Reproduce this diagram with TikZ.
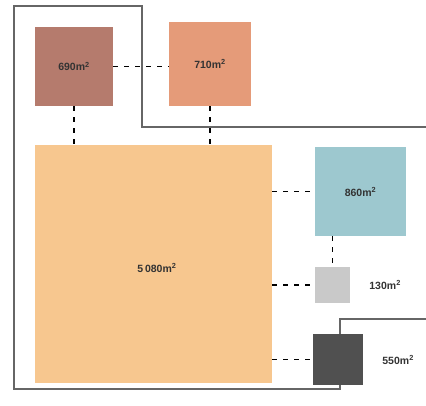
\documentclass[tikz,border=0pt]{standalone}
\usepackage{fontspec}
\setsansfont{Liberation Sans}
\usepackage{tikz}
\usetikzlibrary{calc,positioning}
\tikzstyle{link} = [line width=1.2pt,dash pattern=on 5pt off 6pt]
\tikzset{
    room/.style = {rectangle, inner sep=0pt, font=\sffamily\bfseries\fontsize{10.5}{12}\selectfont, text=black!80},
    outline/.style = {draw=black!60, line width=1.2pt},
}
\definecolor{brownroom}{HTML}{B57B6D}
\definecolor{salmonroom}{HTML}{E59B79}
\definecolor{peachroom}{HTML}{F7C78F}
\definecolor{tealroom}{HTML}{9DC8CF}
\definecolor{greyroom}{HTML}{C9C9C9}
\definecolor{darkroom}{HTML}{505050}

\begin{document}
\begin{tikzpicture}[x=1pt, y=-1pt]
    \useasboundingbox (0,0) rectangle (426,406);

    % site boundary
    \draw [outline] (426,127) -- (142,127) -- (142,6) -- (14,6) -- (14,389)
        -- (340,389) -- (340,319) -- (426,319);

    \node [room, fill=brownroom, minimum width=78pt, minimum height=79pt] (hall) at (74,66.5) {690m\textsuperscript{2}};
    \node [room, fill=salmonroom, minimum width=82pt, minimum height=84pt] (annex) at (210,64) {710m\textsuperscript{2}};
    \node [room, fill=peachroom, minimum width=237pt, minimum height=238pt] (main) at (153.5,264) {};
    \node [room] at (157,268) {5\,080m\textsuperscript{2}};
    \node [room, fill=tealroom, minimum width=91pt, minimum height=89pt] (lab) at (360.5,191.5) {860m\textsuperscript{2}};
    \node [room, fill=greyroom, minimum width=35pt, minimum height=36pt,
        label={[room, label distance=19pt]right:130m\textsuperscript{2}}] (store) at (332.5,285) {};
    \node [room, fill=darkroom, minimum width=50pt, minimum height=51pt,
        label={[room, label distance=19pt]right:550m\textsuperscript{2}}] (plant) at (338,359.5) {};

    \draw [link] (hall.east) -- (hall.east -| annex.west);
    \draw [link] (hall.south) -- (hall.south |- main.north);
    \draw [link] (annex.south) -- (annex.south |- main.north);
    \draw [link] (main.east |- lab.west) -- (lab.west);
    \draw [link] (lab.south -| store.north) -- (store.north);
    \draw [link] (main.east |- store.west) -- (store.west);
    \draw [link] (main.east |- plant.west) -- (plant.west);
\end{tikzpicture}
\end{document}
